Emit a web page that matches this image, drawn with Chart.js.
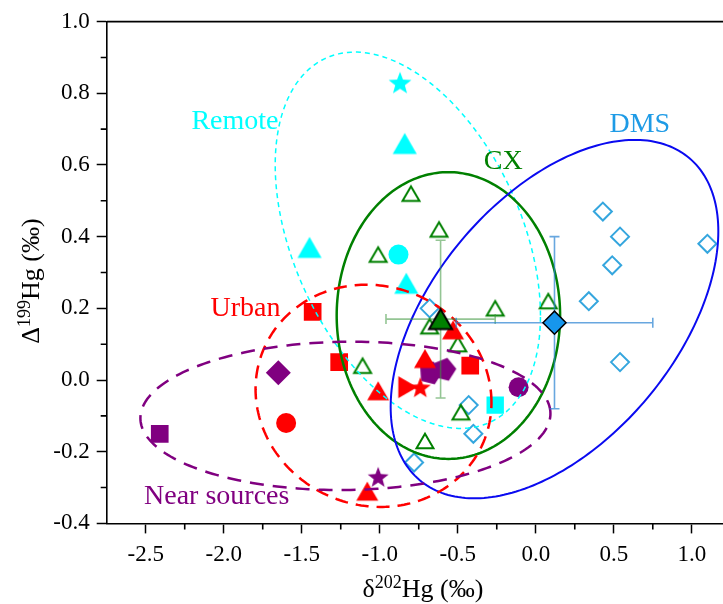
<!DOCTYPE html>
<html>
<head>
<meta charset="utf-8">
<title>Hg isotope signatures</title>
<script src="https://cdn.jsdelivr.net/npm/chart.js@4.4.1/dist/chart.umd.min.js"></script>
<style>
  html, body { margin: 0; padding: 0; background: #fff; }
  #box { width: 723px; height: 604px; position: relative; }
</style>
</head>
<body>
<div id="box"><canvas id="hgChart"></canvas></div>
<script>
/******** values ********/

var xTicks = [-2.5, -2.0, -1.5, -1.0, -0.5, 0.0, 0.5, 1.0];
var yTicks = [-0.4, -0.2, 0.0, 0.2, 0.4, 0.6, 0.8, 1.0];

// Remote (cyan)
var remoteStars = [[-0.87, 0.83]];
var remoteTriangles = [[-0.84, 0.66], [-1.45, 0.37], [-0.83, 0.27]];
var remoteCircles = [[-0.88, 0.35]];
var remoteSquares = [[-0.26, -0.07]];

// Urban (red)
var urbanSquares = [[-1.43, 0.19], [-1.26, 0.05], [-0.42, 0.04]];
var urbanTriangles = [[-1.01, -0.03], [-1.08, -0.31], [-0.71, 0.06], [-0.53, 0.14]];
var urbanRightTriangles = [[-0.82, -0.02]];
var urbanStars = [[-0.74, -0.02]];
var urbanCircles = [[-1.60, -0.12]];

// Near sources (purple)
var nearSquares = [[-2.41, -0.15]];
var nearDiamonds = [[-1.65, 0.02]];
var nearStars = [[-1.01, -0.27]];
var nearPentagons = [[-0.67, 0.02], [-0.58, 0.03]];
var nearCircles = [[-0.11, -0.02]];

// CX (green, open triangles) + mean with 1 sd
var cxSamples = [[-1.01, 0.35], [-0.80, 0.52], [-0.62, 0.42], [-0.26, 0.20], [0.08, 0.22],
                 [-0.68, 0.15], [-0.50, 0.10], [-1.11, 0.04], [-0.48, -0.09], [-0.71, -0.17]];
var cxMean = [-0.61, 0.17];
var cxErr = [0.35, 0.22];

// DMS (blue, open diamonds) + mean with 1 sd
var dmsSamples = [[0.43, 0.47], [0.54, 0.40], [1.10, 0.38], [0.49, 0.32], [0.34, 0.22],
                  [0.54, 0.05], [-0.68, 0.20], [-0.43, -0.07], [-0.40, -0.15], [-0.78, -0.23]];
var dmsMean = [0.12, 0.16];
var dmsErr = [0.63, 0.24];

// ellipses: centre x, centre y, half width, half height, correlation
var remoteEllipse = [-0.82, 0.39, 0.85, 0.525, -0.40];
var cxEllipse = [-0.56, 0.18, 0.716, 0.40, 0.0];
var dmsEllipse = [0.12, 0.17, 1.05, 0.50, 0.49];
var urbanEllipse = [-1.04, -0.044, 0.756, 0.31, -0.06];
var nearEllipse = [-1.22, -0.10, 1.314, 0.207, 0.03];

// group names
var groupNames = ['Remote', 'CX', 'DMS', 'Urban', 'Near sources'];

/******** styling ********/

var CYAN = '#00ffff', RED = '#ff0000', PURPLE = '#800080', GREEN = '#008000';
var DMS_OPEN = '#35a6de', DMS_FILL = '#1796ec', DMS_TEXT = '#1e9be6', BLUE = '#0a0af0';
var SERIF = "'Liberation Serif', 'Times New Roman', serif";

// where the group names sit (data coords, text baseline)
var nameSpots = [[-1.928, 0.700], [-0.208, 0.588], [0.667, 0.691], [-1.860, 0.179], [-2.045, -0.346]];
var nameColors = [CYAN, GREEN, DMS_TEXT, RED, PURPLE];

var ellipseStyles = [
  { e: remoteEllipse, color: CYAN, width: 1.5, dash: [5, 4] },
  { e: cxEllipse, color: GREEN, width: 2.5, dash: [] },
  { e: dmsEllipse, color: BLUE, width: 2, dash: [] },
  { e: urbanEllipse, color: RED, width: 2.5, dash: [13, 8] },
  { e: nearEllipse, color: PURPLE, width: 2.5, dash: [14, 9] }
];

// small canvases for the symbols Chart.js has no built-in for
function makeMarker(shape, R, fill, stroke, lw) {
  var pts = [], i, a;
  if (shape === 'triangle') {
    for (i = 0; i < 3; i++) {
      a = -Math.PI / 2 + i * 2 * Math.PI / 3;
      pts.push([R * Math.cos(a), R * Math.sin(a)]);
    }
  } else if (shape === 'star') {
    for (i = 0; i < 10; i++) {
      a = -Math.PI / 2 + i * Math.PI / 5;
      var rr = i % 2 === 0 ? R : R * 0.42;
      pts.push([rr * Math.cos(a), rr * Math.sin(a)]);
    }
  } else if (shape === 'pentagon') {
    for (i = 0; i < 5; i++) {
      a = -Math.PI / 2 + i * 2 * Math.PI / 5 + 0.25;
      pts.push([R * Math.cos(a), R * Math.sin(a)]);
    }
  }
  // centre the bounding box
  var minY = Math.min.apply(null, pts.map(function (p) { return p[1]; }));
  var maxY = Math.max.apply(null, pts.map(function (p) { return p[1]; }));
  var minX = Math.min.apply(null, pts.map(function (p) { return p[0]; }));
  var maxX = Math.max.apply(null, pts.map(function (p) { return p[0]; }));
  var dx = -(minX + maxX) / 2, dy = -(minY + maxY) / 2;
  var c = document.createElement('canvas');
  var side = Math.ceil(2 * R + (lw || 0) + 4);
  c.width = side; c.height = side;
  var g = c.getContext('2d');
  var m = side / 2;
  g.beginPath();
  pts.forEach(function (p, k) {
    if (k === 0) g.moveTo(m + p[0] + dx, m + p[1] + dy);
    else g.lineTo(m + p[0] + dx, m + p[1] + dy);
  });
  g.closePath();
  if (fill) { g.fillStyle = fill; g.fill(); }
  if (stroke) { g.lineWidth = lw; g.strokeStyle = stroke; g.lineJoin = 'miter'; g.stroke(); }
  return c;
}

function pts(arr) {
  return arr.map(function (p) { return { x: p[0], y: p[1] }; });
}

function series(label, arr, style, size, fill, border, bw, rot) {
  return {
    label: label,
    data: pts(arr),
    pointStyle: style,
    pointRadius: size,
    pointRotation: rot || 0,
    pointBackgroundColor: fill,
    pointBorderColor: border || fill,
    pointBorderWidth: bw || 0,
    showLine: false
  };
}

var datasets = [
  // means on top
  series('CX mean', [cxMean], makeMarker('triangle', 13.3, GREEN, '#000', 2), 13),
  series('DMS mean', [dmsMean], 'rectRot', 11.5, DMS_FILL, '#000', 1.5),
  series('Urban stars', urbanStars, makeMarker('star', 11, RED), 11),
  series('Urban right triangles', urbanRightTriangles, makeMarker('triangle', 12.7, RED), 12, null, null, 0, 90),
  series('Urban triangles', urbanTriangles, makeMarker('triangle', 12.7, RED), 12),
  series('Urban squares', urbanSquares, 'rect', 12.5, RED),
  series('Urban circles', urbanCircles, 'circle', 10, RED),
  series('Near pentagons', nearPentagons, makeMarker('pentagon', 12, PURPLE), 12),
  series('Near squares', nearSquares, 'rect', 12.5, PURPLE),
  series('Near diamonds', nearDiamonds, 'rectRot', 12.5, PURPLE),
  series('Near stars', nearStars, makeMarker('star', 11, PURPLE), 11),
  series('Near circles', nearCircles, 'circle', 10, PURPLE),
  series('Remote stars', remoteStars, makeMarker('star', 12, CYAN), 12),
  series('Remote triangles', remoteTriangles, makeMarker('triangle', 13.9, CYAN), 13),
  series('Remote circles', remoteCircles, 'circle', 10, CYAN),
  series('Remote squares', remoteSquares, 'rect', 12.3, CYAN),
  series('CX', cxSamples, makeMarker('triangle', 9.8, null, GREEN, 2), 10),
  series('DMS', dmsSamples, 'rectRot', 9, 'rgba(0,0,0,0)', DMS_OPEN, 2)
];

/******** drawing helpers ********/

function traceEllipse(ctx, xs, ys, e) {
  var k = Math.sqrt(1 - e[4] * e[4]);
  ctx.beginPath();
  for (var i = 0; i <= 240; i++) {
    var t = i / 240 * 2 * Math.PI;
    var px = xs.getPixelForValue(e[0] + e[2] * Math.cos(t));
    var py = ys.getPixelForValue(e[1] + e[3] * (e[4] * Math.cos(t) + k * Math.sin(t)));
    if (i === 0) ctx.moveTo(px, py); else ctx.lineTo(px, py);
  }
  ctx.closePath();
}

function drawErrorBars(ctx, xs, ys, mean, err, color) {
  var cx = xs.getPixelForValue(mean[0]), cy = ys.getPixelForValue(mean[1]);
  var x0 = xs.getPixelForValue(mean[0] - err[0]), x1 = xs.getPixelForValue(mean[0] + err[0]);
  var y0 = ys.getPixelForValue(mean[1] - err[1]), y1 = ys.getPixelForValue(mean[1] + err[1]);
  var cap = 5;
  ctx.save();
  ctx.strokeStyle = color;
  ctx.lineWidth = 1.6;
  ctx.setLineDash([]);
  ctx.beginPath();
  ctx.moveTo(x0, cy); ctx.lineTo(x1, cy);
  ctx.moveTo(cx, y0); ctx.lineTo(cx, y1);
  ctx.moveTo(x0, cy - cap); ctx.lineTo(x0, cy + cap);
  ctx.moveTo(x1, cy - cap); ctx.lineTo(x1, cy + cap);
  ctx.moveTo(cx - cap, y0); ctx.lineTo(cx + cap, y0);
  ctx.moveTo(cx - cap, y1); ctx.lineTo(cx + cap, y1);
  ctx.stroke();
  ctx.restore();
}

function drawSupTitle(ctx, parts, x, y, rotate) {
  var main = '26px ' + SERIF, sup = '18px ' + SERIF;
  ctx.save();
  ctx.translate(x, y);
  if (rotate) ctx.rotate(-Math.PI / 2);
  var total = 0;
  parts.forEach(function (p) {
    ctx.font = p[1] ? sup : main;
    total += ctx.measureText(p[0]).width;
  });
  var cur = -total / 2;
  ctx.fillStyle = '#000';
  ctx.textBaseline = 'alphabetic';
  ctx.textAlign = 'left';
  parts.forEach(function (p) {
    ctx.font = p[1] ? sup : main;
    ctx.fillText(p[0], cur, p[1] ? -9 : 0);
    cur += ctx.measureText(p[0]).width;
  });
  ctx.restore();
}

function minorValues(majors, min, max) {
  var step = majors[1] - majors[0];
  var out = [majors[0] - step / 2];
  majors.forEach(function (v) { out.push(v + step / 2); });
  return out.filter(function (v) { return v > min + 1e-9 && v < max - 1e-9; });
}

var overlayPlugin = {
  id: 'overlay',
  beforeDatasetDraw: function (chart, args) {
    // just before the two mean markers: ellipses, then error bars
    if (args.index !== 1) return;
    var ctx = chart.ctx, xs = chart.scales.x, ys = chart.scales.y;
    ctx.save();
    ellipseStyles.forEach(function (s) {
      ctx.strokeStyle = s.color;
      ctx.lineWidth = s.width;
      ctx.setLineDash(s.dash);
      traceEllipse(ctx, xs, ys, s.e);
      ctx.stroke();
    });
    ctx.restore();
    drawErrorBars(ctx, xs, ys, cxMean, cxErr, 'rgba(60,150,60,0.55)');
    drawErrorBars(ctx, xs, ys, dmsMean, dmsErr, 'rgba(40,130,210,0.7)');
  },
  afterDraw: function (chart) {
    var ctx = chart.ctx, xs = chart.scales.x, ys = chart.scales.y, a = chart.chartArea;
    ctx.save();
    // top frame line
    ctx.strokeStyle = '#000';
    ctx.lineWidth = 1.6;
    ctx.beginPath();
    ctx.moveTo(a.left, a.top); ctx.lineTo(a.right, a.top);
    // minor ticks
    minorValues(xTicks, xs.min, xs.max).forEach(function (v) {
      var px = xs.getPixelForValue(v);
      ctx.moveTo(px, a.bottom); ctx.lineTo(px, a.bottom + 6);
    });
    minorValues(yTicks, ys.min, ys.max).forEach(function (v) {
      var py = ys.getPixelForValue(v);
      ctx.moveTo(a.left, py); ctx.lineTo(a.left - 6, py);
    });
    ctx.stroke();

    // group names
    ctx.font = '28px ' + SERIF;
    ctx.textAlign = 'center';
    ctx.textBaseline = 'alphabetic';
    groupNames.forEach(function (name, i) {
      ctx.fillStyle = nameColors[i];
      ctx.fillText(name, xs.getPixelForValue(nameSpots[i][0]), ys.getPixelForValue(nameSpots[i][1]));
    });
    ctx.restore();

    // axis titles
    drawSupTitle(ctx, [['\u03b4', false], ['202', true], ['Hg (\u2030)', false]], 423, 597, false);
    drawSupTitle(ctx, [['\u0394', false], ['199', true], ['Hg (\u2030)', false]], 39, 281, true);
  }
};

Chart.defaults.font.family = SERIF;
Chart.defaults.color = '#000';

new Chart(document.getElementById('hgChart'), {
  type: 'scatter',
  data: { datasets: datasets },
  options: {
    responsive: true,
    maintainAspectRatio: false,
    animation: false,
    events: [],
    layout: { autoPadding: false, padding: { top: 21.6, right: 0, bottom: 0, left: 0 } },
    plugins: { legend: { display: false }, tooltip: { enabled: false } },
    scales: {
      x: {
        type: 'linear',
        min: -2.75,
        max: 1.2,
        afterBuildTicks: function (axis) {
          axis.ticks = xTicks.map(function (v) { return { value: v }; });
        },
        afterFit: function (axis) { axis.height = 80.6; },
        ticks: {
          autoSkip: false,
          maxRotation: 0,
          padding: 8,
          font: { size: 23 },
          callback: function (v) { return v.toFixed(1); }
        },
        grid: { drawOnChartArea: false, drawTicks: true, tickLength: 10, tickColor: '#000', tickWidth: 1.5 },
        border: { display: true, color: '#000', width: 1.6 }
      },
      y: {
        type: 'linear',
        min: -0.4,
        max: 1.0,
        afterBuildTicks: function (axis) {
          axis.ticks = yTicks.map(function (v) { return { value: v }; });
        },
        afterFit: function (axis) { axis.width = 106.7; },
        ticks: {
          autoSkip: false,
          padding: 7,
          font: { size: 23 },
          callback: function (v) { return v.toFixed(1); }
        },
        grid: { drawOnChartArea: false, drawTicks: true, tickLength: 10, tickColor: '#000', tickWidth: 1.5 },
        border: { display: true, color: '#000', width: 1.6 }
      }
    }
  },
  plugins: [overlayPlugin]
});
</script>
</body>
</html>
